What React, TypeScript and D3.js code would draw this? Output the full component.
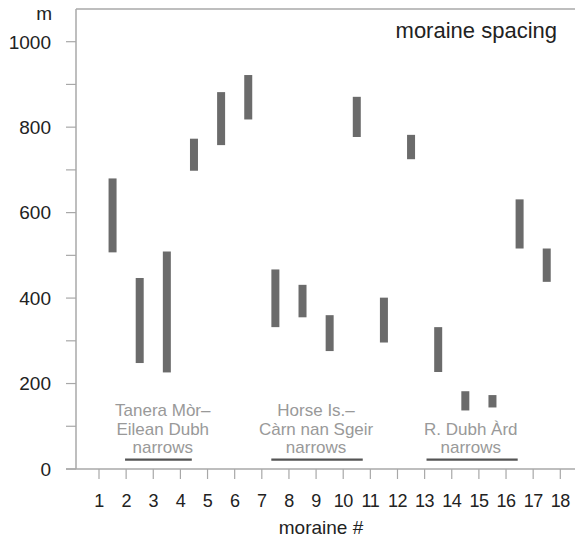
import React from 'react';
import * as d3 from 'd3';

// spacing ranges per moraine interval (m), bar sits between moraine i and i+1
const positions = [1.5, 2.5, 3.5, 4.5, 5.5, 6.5, 7.5, 8.5, 9.5, 10.5, 11.5, 12.5, 13.5, 14.5, 15.5, 16.5, 17.5];
const lows = [507, 248, 226, 698, 758, 818, 332, 355, 276, 777, 296, 725, 227, 137, 144, 516, 438];
const highs = [680, 447, 509, 773, 882, 922, 467, 431, 360, 871, 401, 782, 332, 182, 173, 631, 516];

const xTicks = d3.range(1, 19);
const yTicks = d3.range(0, 1001, 100);
const yLabels = [0, 200, 400, 600, 800, 1000];

const groupNames = [
  ['Tanera Mòr–', 'Eilean Dubh', 'narrows'],
  ['Horse Is.–', 'Càrn nan Sgeir', 'narrows'],
  ['R. Dubh Àrd', 'narrows'],
];
const groupCenters = [3.35, 9.0, 14.7];
const groupStart = [1.96, 7.35, 13.07];
const groupEnd = [4.42, 10.72, 16.43];

const W = 575;
const H = 538;
const FONT = 'Liberation Sans, Arial, sans-serif';

export default function App() {
  const left = 76;
  const top = 9;
  const bottom = 469;

  const x = d3.scaleLinear().domain([1, 18]).range([99, 560.3]);
  const y = d3.scaleLinear().domain([0, 1000]).range([bottom, 41.7]);

  const axisColor = '#a8a8a8';
  const lineH = 18.5;

  return (
    <svg width={W} height={H} style={{ position: 'absolute', left: 0, top: 0, background: '#fff' }} fontFamily={FONT}>
      {/* frame */}
      <line x1={left} x2={W} y1={top} y2={top} stroke={axisColor} strokeWidth={1.5} />
      <line x1={left} x2={left} y1={top} y2={bottom} stroke={axisColor} strokeWidth={1.5} />
      <line x1={66} x2={W} y1={bottom} y2={bottom} stroke={axisColor} strokeWidth={1.5} />

      {/* y ticks */}
      {yTicks.map((t) => (
        <line key={'yt' + t} x1={66} x2={left} y1={y(t)} y2={y(t)} stroke={axisColor} strokeWidth={1.2} />
      ))}
      {yLabels.map((t) => (
        <text key={'yl' + t} x={51} y={y(t)} dy="0.36em" textAnchor="end" fontSize={19} fill="#222">
          {t}
        </text>
      ))}
      <text x={52} y={20} textAnchor="end" fontSize={19} fill="#222">m</text>

      {/* x ticks */}
      {xTicks.map((t) => (
        <line key={'xt' + t} x1={x(t)} x2={x(t)} y1={bottom} y2={bottom + 10} stroke={axisColor} strokeWidth={1.2} />
      ))}
      {xTicks.map((t) => (
        <text key={'xl' + t} x={x(t)} y={507} textAnchor="middle" fontSize={18} letterSpacing={-0.5} fill="#222">
          {t}
        </text>
      ))}
      <text x={321} y={534} textAnchor="middle" fontSize={19} fill="#222">moraine #</text>

      {/* title */}
      <text x={557} y={38} textAnchor="end" fontSize={22} fill="#222">moraine spacing</text>

      {/* bars */}
      {positions.map((p, i) => (
        <rect
          key={'b' + i}
          x={x(p) - 4}
          y={y(highs[i])}
          width={8}
          height={y(lows[i]) - y(highs[i])}
          fill="#6b6b6b"
        />
      ))}

      {/* narrows annotations */}
      {groupNames.map((lines, g) => (
        <g key={'g' + g}>
          {lines.map((s, j) => (
            <text
              key={j}
              x={x(groupCenters[g])}
              y={453 - (lines.length - 1 - j) * lineH}
              textAnchor="middle"
              fontSize={17}
              fill="#999"
            >
              {s}
            </text>
          ))}
          <line
            x1={x(groupStart[g])}
            x2={x(groupEnd[g])}
            y1={y(22)}
            y2={y(22)}
            stroke="#555"
            strokeWidth={2.2}
          />
        </g>
      ))}
    </svg>
  );
}
